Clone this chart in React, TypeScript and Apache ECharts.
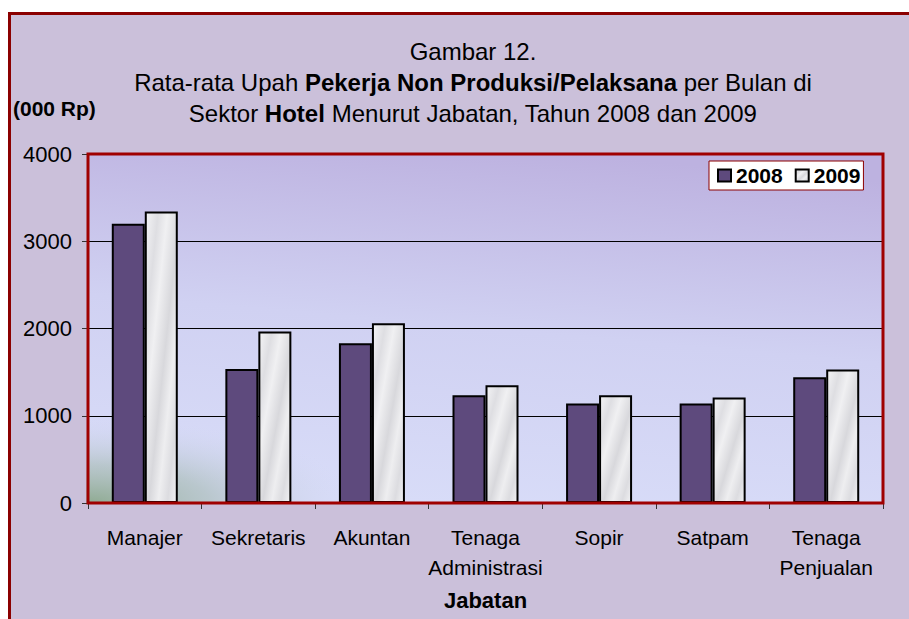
import React, { useEffect, useRef } from "react";
import * as echarts from "echarts";

const categories = ["Manajer", "Sekretaris", "Akuntan", "Tenaga\nAdministrasi", "Sopir", "Satpam", "Tenaga\nPenjualan"];
const values2008 = [3200, 1535, 1830, 1235, 1140, 1140, 1440];
const values2009 = [3340, 1965, 2060, 1350, 1235, 1210, 1530];
const seriesNames = ["2008", "2009"];
const yTicks = { min: 0, max: 4000, interval: 1000 };

const FONT = "'Liberation Sans', Arial, sans-serif";

export default function App() {
  const ref = useRef<HTMLDivElement>(null);
  useEffect(() => {
    if (!ref.current) return;
    const chart = echarts.init(ref.current, null, { renderer: "svg" });
    const gL = 88, gT = 154, gR = 883, gB = 503;
    const frameFill = "#CBC0DA";
    const marble = new echarts.graphic.LinearGradient(0, 0, 1, 1, [
      { offset: 0, color: "#F4F4F6" },
      { offset: 0.2, color: "#DEDEE2" },
      { offset: 0.35, color: "#F0F0F2" },
      { offset: 0.55, color: "#D8D8DC" },
      { offset: 0.7, color: "#EEEEF0" },
      { offset: 0.85, color: "#DCDCE0" },
      { offset: 1, color: "#F2F2F4" },
    ]);
    chart.setOption({
      animation: false,
      backgroundColor: "#FFFFFF",
      textStyle: { fontFamily: FONT },
      title: {
        left: 468,
        top: 31,
        padding: 5,
        textAlign: "center",
        text:
          "Gambar 12.\nRata-rata Upah {b|Pekerja Non Produksi/Pelaksana} per Bulan di\nSektor {b|Hotel} Menurut Jabatan, Tahun 2008 dan 2009",
        textStyle: {
          fontFamily: FONT,
          fontSize: 24,
          fontWeight: "normal",
          color: "#000",
          lineHeight: 31,
          rich: {
            b: { fontFamily: FONT, fontSize: 24, fontWeight: "bold", color: "#000", lineHeight: 31 },
          },
        },
      },
      legend: {
        left: 709,
        top: 161,
        padding: [4, 3, 4, 8],
        itemGap: 12,
        itemWidth: 13,
        itemHeight: 12,
        backgroundColor: "#FFFFFF",
        borderColor: "#8B0000",
        borderWidth: 1,
        borderRadius: 0,
        icon: "rect",
        data: seriesNames,
        textStyle: { fontFamily: FONT, fontSize: 21, fontWeight: "bold", color: "#000" },
      },
      grid: { left: gL, top: gT, right: 909 - gR, bottom: 619 - gB, containLabel: false },
      xAxis: {
        type: "category",
        data: categories,
        name: "Jabatan",
        nameLocation: "middle",
        nameGap: 86,
        nameTextStyle: { fontFamily: FONT, fontSize: 22, fontWeight: "bold", color: "#000" },
        axisLine: { show: true, lineStyle: { color: "#A00000", width: 2 } },
        axisTick: { show: true, length: 6, lineStyle: { color: "#333" } },
        axisLabel: { fontFamily: FONT, fontSize: 21, color: "#000", lineHeight: 30, margin: 19, interval: 0 },
        splitLine: { show: false },
      },
      yAxis: {
        type: "value",
        min: yTicks.min,
        max: yTicks.max,
        interval: yTicks.interval,
        axisLine: { show: false },
        axisTick: { show: true, length: 6, lineStyle: { color: "#333" } },
        axisLabel: {
          fontFamily: FONT,
          fontSize: 22,
          color: "#000",
          margin: 16,
          formatter: (v: number) => String(v),
        },
        splitLine: { show: true, lineStyle: { color: "#000", width: 1 } },
      },
      graphic: [
        {
          type: "rect",
          z: -30,
          silent: true,
          shape: { x: 9.5, y: 13.5, width: 1000, height: 1000 },
          style: { fill: frameFill },
        },
        {
          type: "rect",
          z: -20,
          silent: true,
          shape: { x: gL, y: gT, width: gR - gL, height: gB - gT },
          style: {
            fill: new echarts.graphic.LinearGradient(0.4, 1, 0.6, 0, [
              { offset: 0, color: "#D8DCF8" },
              { offset: 0.5, color: "#D0D1F2" },
              { offset: 1, color: "#BDB2E0" },
            ]),
          },
        },
        {
          type: "circle",
          z: -19,
          silent: true,
          x: gL,
          y: gB,
          scaleX: 2.7,
          scaleY: 0.85,
          shape: { cx: 0, cy: 0, r: 100 },
          style: {
            fill: new echarts.graphic.RadialGradient(0.5, 0.5, 0.5, [
              { offset: 0, color: "rgba(135,165,135,0.9)" },
              { offset: 0.45, color: "rgba(160,182,170,0.55)" },
              { offset: 1, color: "rgba(210,215,240,0)" },
            ]),
          },
        },
        {
          type: "rect",
          z: -18,
          silent: true,
          shape: { x: 9, y: 380, width: gL - 1.5 - 9, height: 240 },
          style: { fill: frameFill },
        },
        {
          type: "rect",
          z: -18,
          silent: true,
          shape: { x: 9, y: gB + 1, width: 420, height: 120 },
          style: { fill: frameFill },
        },
        {
          type: "rect",
          z: -17.5,
          silent: true,
          shape: { x: 0, y: 370, width: 9, height: 260 },
          style: { fill: "#FFFFFF" },
        },
        {
          type: "rect",
          z: -17,
          silent: true,
          shape: { x: 9.5, y: 13.5, width: 1000, height: 1000 },
          style: { fill: "none", stroke: "#8B0000", lineWidth: 3 },
        },
        {
          type: "rect",
          z: 50,
          silent: true,
          shape: { x: gL, y: gT, width: gR - gL, height: gB - gT },
          style: { fill: "none", stroke: "#A00000", lineWidth: 3 },
        },
        {
          type: "text",
          z: 50,
          left: 13,
          top: 98,
          style: { text: "(000 Rp)", font: `bold 21px ${FONT}`, fill: "#000" },
        },
      ],
      series: [
        {
          name: seriesNames[0],
          type: "bar",
          data: values2008,
          barWidth: 33,
          barGap: "0%",
          itemStyle: { color: "#5E4A7D", borderColor: "#000", borderWidth: 2 },
        },
        {
          name: seriesNames[1],
          type: "bar",
          data: values2009,
          barWidth: 33,
          barGap: "0%",
          itemStyle: { color: marble, borderColor: "#000", borderWidth: 2 },
        },
      ],
    });
    return () => chart.dispose();
  }, []);
  return <div ref={ref} style={{ position: "absolute", left: 0, top: 0, width: 909, height: 619 }} />;
}
